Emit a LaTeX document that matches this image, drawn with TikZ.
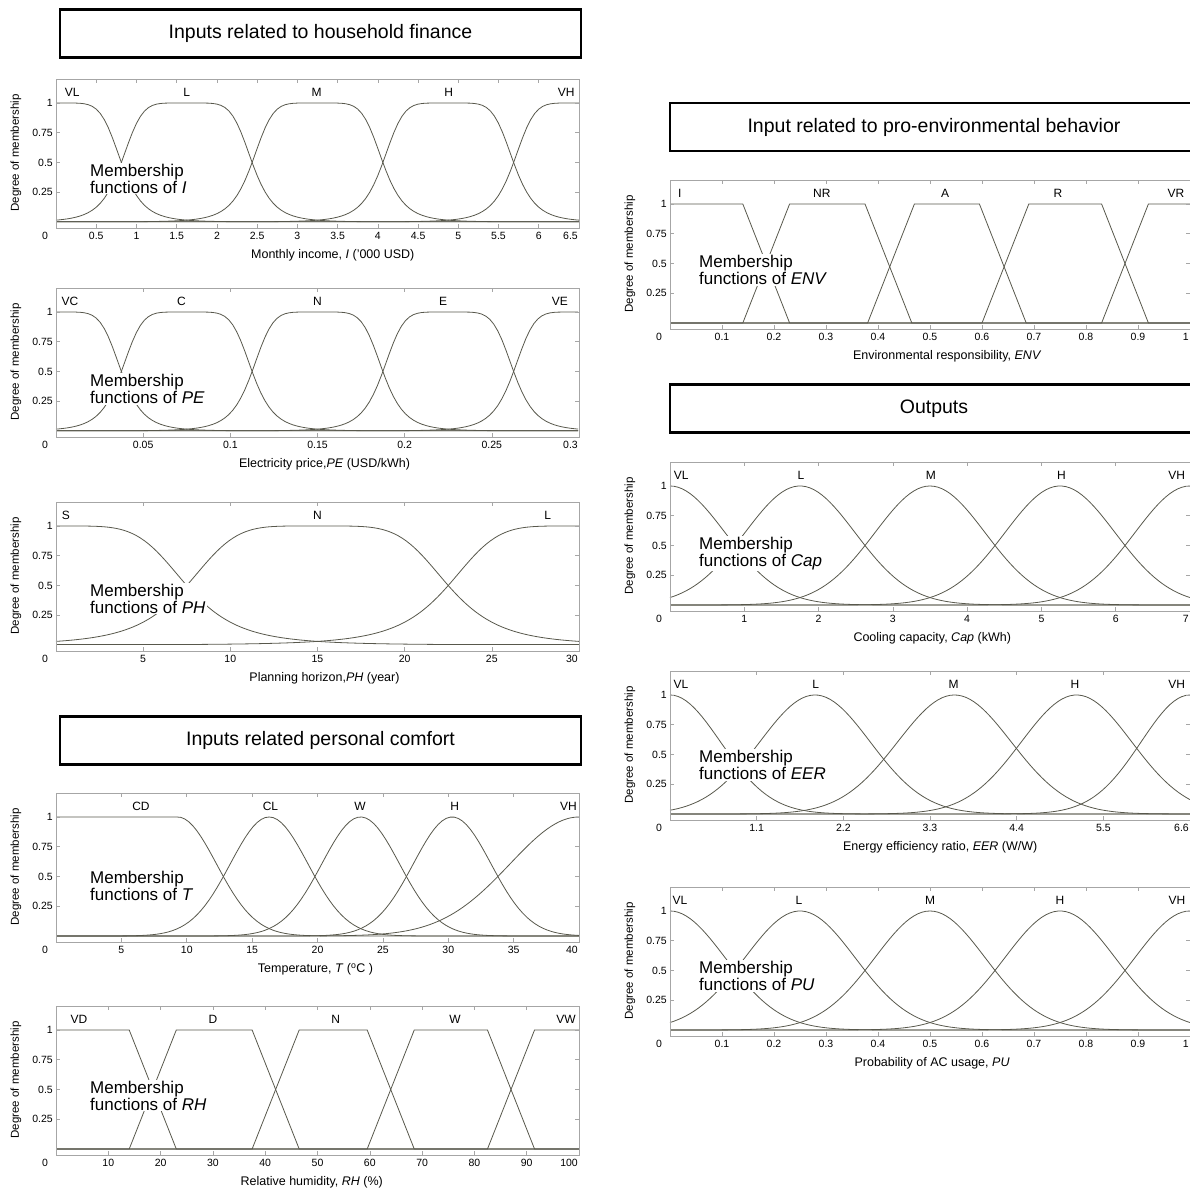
\documentclass[tikz,border=0pt]{standalone}
\usepackage{fontspec}
\setmainfont{Liberation Sans}
\definecolor{curvagris}{RGB}{88,88,76}
\tikzset{
    curva/.style={line width=0.8pt, color=curvagris},
    marco/.style={line width=0.6pt, color=black!35},
    titulo/.style={draw, line width=2.4pt, minimum width=521pt, minimum height=48pt, inner sep=0pt, font=\fontsize{19.5}{22}\selectfont},
    ytick/.style={anchor=east, inner sep=1pt, xshift=-2pt, font=\fontsize{10.5}{12}\selectfont},
    xtick/.style={anchor=north, inner sep=1pt, yshift=-3pt, font=\fontsize{10.5}{12}\selectfont},
    ylab/.style={xshift=-40pt, rotate=90, inner sep=0pt, font=\fontsize{11.5}{13}\selectfont},
    xlab/.style={inner sep=1pt, font=\fontsize{12.5}{14}\selectfont},
    mfname/.style={inner sep=1pt, font=\fontsize{12}{14}\selectfont},
    leyenda/.style={anchor=west, align=left, fill=white, inner sep=1pt, font=\fontsize{17}{17}\selectfont},
    declare function={
        campanaa(\s)=1/(1+\s*\s*\s*\s*\s*\s);
        campana(\t)=campanaa(min(abs(\t),3));
        campanbb(\s)=1/(1+\s*\s*\s*\s*\s);
        campanb(\t)=campanbb(min(abs(\t),3));
        gausiana(\t)=exp(-min(0.5*\t*\t,15));
    },
}
% marco, marcas y rotulos de un panel: xmax, marcas, ultima marca, rotulo x, posicion del rotulo
\newcommand{\ejes}[5]{%
\draw[marco] (0,-0.05) rectangle (#1,1.2);
\foreach \yv in {0.25,0.5,0.75,1} {
    \draw[marco] (0,\yv) -- ++(4pt,0);
    \draw[marco] (#1,\yv) -- ++(-4pt,0);
    \node[ytick] at (0,\yv) {\yv};
}
\foreach \xt in {#2} {
    \draw[marco] (\xt,-0.05) -- ++(0,4pt);
    \draw[marco] (\xt,1.2) -- ++(0,-4pt);
    \node[xtick] at (\xt,-0.05) {\xt};
}
\node[xtick, anchor=north east] at (#1,-0.05) {#3};
\node[xtick, xshift=-11pt] at (0,-0.05) {0};
\node[ylab] at (0,0.58) {Degree of membership};
\node[xlab] at (#5,-0.28) {#4};
}

\begin{document}
\begin{tikzpicture}[x=1pt, y=1pt]
\useasboundingbox (0,0) rectangle (1190,1191);

% Titulos
\node[titulo] (tfinanza) at (320.5,1157.5) {Inputs related to household finance};
\node[titulo] (tconfort) at (320.5,450.5) {Inputs related personal comfort};
\node[titulo, minimum width=528pt] (tambiente) at (934,1064) {Input related to pro-environmental behavior};
\node[titulo, minimum width=528pt] (tsalidas) at (934,782.5) {Outputs};

% Panel 1: ingreso mensual I
\begin{scope}[shift={(56,969)}, x=80.46pt, y=119pt]
\foreach \m in {0,1.625,3.25,4.875,6.5} {
    \draw[curva] plot[domain=0:6.5, samples=131] (\x,{campana((\x-\m)/0.8125)});
}
\ejes{6.5}{0.5,1,1.5,2,2.5,3,3.5,4,4.5,5,5.5,6}{6.5}{Monthly income, \textit{I} ('000 USD)}{3.44}
\foreach \p/\n in {0.2/VL,1.625/L,3.24/M,4.88/H,6.34/VH} {
    \node[mfname] at (\p,1.09) {\n};
}
\node[leyenda, xshift=33pt] (legI) at (0,0.366) {Membership\\functions of \textit{I}};
\end{scope}

% Panel 2: precio de electricidad PE
\begin{scope}[shift={(56,760)}, x=1743.33pt, y=119pt]
\foreach \m in {0,0.075,0.15,0.225,0.3} {
    \draw[curva] plot[domain=0:0.3, samples=131] (\x,{campana((\x-\m)/0.0375)});
}
\ejes{0.3}{0.05,0.1,0.15,0.2,0.25}{0.3}{Electricity price,\textit{PE} (USD/kWh)}{0.154}
\foreach \p/\n in {0.008/VC,0.072/C,0.15/N,0.222/E,0.289/VE} {
    \node[mfname] at (\p,1.09) {\n};
}
\node[leyenda, xshift=33pt] (legPE) at (0,0.353) {Membership\\functions of \textit{PE}};
\end{scope}

% Panel 3: horizonte de planificacion PH
\begin{scope}[shift={(56,546)}, x=17.433pt, y=119pt]
\foreach \m in {0,15,30} {
    \draw[curva] plot[domain=0:30, samples=131] (\x,{campanb((\x-\m)/7.5)});
}
\ejes{30}{5,10,15,20,25}{30}{Planning horizon,\textit{PH} (year)}{15.4}
\foreach \p/\n in {0.57/S,15/N,28.2/L} {
    \node[mfname] at (\p,1.09) {\n};
}
\node[leyenda, xshift=33pt] (legPH) at (0,0.39) {Membership\\functions of \textit{PH}};
\end{scope}

% Panel 4: temperatura T
\begin{scope}[shift={(56,255)}, x=13.075pt, y=119pt]
\draw[curva] plot[domain=0:40, samples=131] (\x,{gausiana(max(\x-9.3,0)/2.97)});
\foreach \m in {16.3,23.3,30.3} {
    \draw[curva] plot[domain=0:40, samples=131] (\x,{gausiana((\x-\m)/2.97)});
}
\draw[curva] plot[domain=0:40, samples=131] (\x,{gausiana((\x-40)/5.27)});
\ejes{40}{5,10,15,20,25,30,35}{40}{Temperature, \textit{T} (\textsuperscript{o}C )}{19.85}
\foreach \p/\n in {6.5/CD,16.4/CL,23.25/W,30.5/H,39.2/VH} {
    \node[mfname] at (\p,1.09) {\n};
}
\node[leyenda, xshift=33pt] (legT) at (0,0.424) {Membership\\functions of \textit{T}};
\end{scope}

% Panel 5: humedad relativa RH
\begin{scope}[shift={(56,42)}, x=5.23pt, y=119pt]
\draw[curva] (0,1) -- (14,1) -- (23,0) -- (100,0);
\foreach \a/\b/\c/\d in {14/23/37.5/46.5, 37.5/46.5/59.5/68.5, 59.5/68.5/82.5/91.5} {
    \draw[curva] (0,0) -- (\a,0) -- (\b,1) -- (\c,1) -- (\d,0) -- (100,0);
}
\draw[curva] (0,0) -- (82.5,0) -- (91.5,1) -- (100,1);
\ejes{100}{10,20,30,40,50,60,70,80,90}{100}{Relative humidity, \textit{RH} (\%)}{48.9}
\foreach \p/\n in {4.4/VD,30/D,53.5/N,76.3/W,97.5/VW} {
    \node[mfname] at (\p,1.09) {\n};
}
\node[leyenda, xshift=33pt] (legRH) at (0,0.45) {Membership\\functions of \textit{RH}};
\end{scope}

% Panel 6: responsabilidad ambiental ENV
\begin{scope}[shift={(670,868)}, x=520pt, y=119pt]
\draw[curva] (0,1) -- (0.14,1) -- (0.23,0) -- (1,0);
\foreach \a/\b/\c/\d in {0.14/0.23/0.375/0.465, 0.38/0.47/0.595/0.685, 0.6/0.69/0.83/0.92} {
    \draw[curva] (0,0) -- (\a,0) -- (\b,1) -- (\c,1) -- (\d,0) -- (1,0);
}
\draw[curva] (0,0) -- (0.83,0) -- (0.92,1) -- (1,1);
\ejes{1}{0.1,0.2,0.3,0.4,0.5,0.6,0.7,0.8,0.9}{1}{Environmental responsibility, \textit{ENV}}{0.533}
\foreach \p/\n in {0.019/I,0.292/NR,0.529/A,0.746/R,0.973/VR} {
    \node[mfname] at (\p,1.09) {\n};
}
\node[leyenda, xshift=28pt] (legENV) at (0,0.445) {Membership\\functions of \textit{ENV}};
\end{scope}

% Panel 7: capacidad de enfriamiento Cap
\begin{scope}[shift={(670,586)}, x=74.286pt, y=119pt]
\foreach \m in {0,1.75,3.5,5.25,7} {
    \draw[curva] plot[domain=0:7, samples=131] (\x,{gausiana((\x-\m)/0.743)});
}
\ejes{7}{1,2,3,4,5,6}{7}{Cooling capacity, \textit{Cap} (kWh)}{3.53}
\foreach \p/\n in {0.15/VL,1.763/L,3.51/M,5.27/H,6.82/VH} {
    \node[mfname] at (\p,1.09) {\n};
}
\node[leyenda, xshift=28pt] (legCap) at (0,0.43) {Membership\\functions of \textit{Cap}};
\end{scope}

% Panel 8: razon de eficiencia energetica EER
\begin{scope}[shift={(670,377)}, x=78.788pt, y=119pt]
\foreach \m/\s in {0/0.64,1.84/0.7,3.61/0.72,5.16/0.7,6.6/0.62} {
    \draw[curva] plot[domain=0:6.6, samples=131] (\x,{gausiana((\x-\m)/\s)});
}
\ejes{6.6}{1.1,2.2,3.3,4.4,5.5}{6.6}{Energy efficiency ratio, \textit{EER} (W/W)}{3.43}
\foreach \p/\n in {0.14/VL,1.85/L,3.6/M,5.14/H,6.43/VH} {
    \node[mfname] at (\p,1.09) {\n};
}
\node[leyenda, xshift=28pt] (legEER) at (0,0.41) {Membership\\functions of \textit{EER}};
\end{scope}

% Panel 9: probabilidad de uso del AC PU
\begin{scope}[shift={(670,161)}, x=520pt, y=119pt]
\foreach \m in {0,0.25,0.5,0.75,1} {
    \draw[curva] plot[domain=0:1, samples=131] (\x,{gausiana((\x-\m)/0.1062)});
}
\ejes{1}{0.1,0.2,0.3,0.4,0.5,0.6,0.7,0.8,0.9}{1}{Probability of AC usage, \textit{PU}}{0.504}
\foreach \p/\n in {0.019/VL,0.248/L,0.5/M,0.75/H,0.975/VH} {
    \node[mfname] at (\p,1.09) {\n};
}
\node[leyenda, xshift=28pt] (legPU) at (0,0.454) {Membership\\functions of \textit{PU}};
\end{scope}
\end{tikzpicture}
\end{document}
